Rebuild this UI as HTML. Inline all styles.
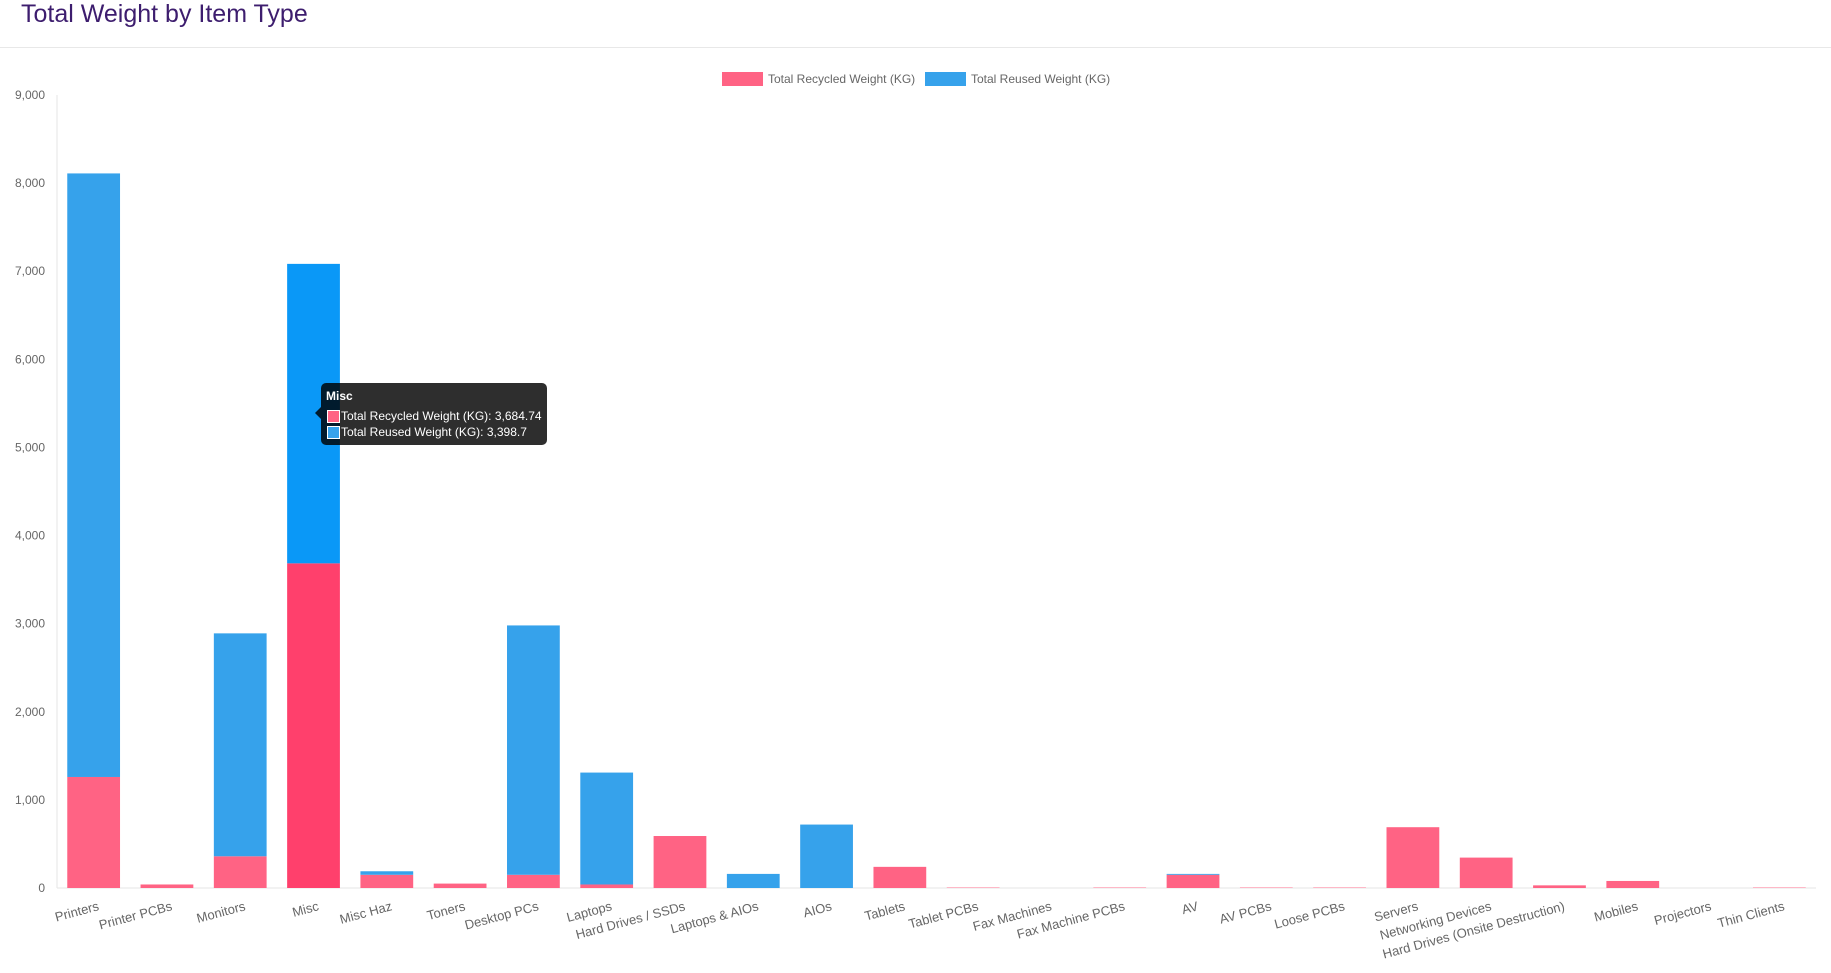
<!DOCTYPE html>
<html><head><meta charset="utf-8"><style>
body{margin:0;background:#fff;font-family:"Liberation Sans",sans-serif;}
#title{position:absolute;left:21px;top:0px;font-size:25px;color:#3d1d6e;}
#rule{position:absolute;left:0;top:47px;width:1831px;height:1px;background:#e8e8e8;}
#tip{position:absolute;left:321px;top:383px;width:226px;height:62px;background:rgba(0,0,0,0.82);border-radius:5px;color:#fff;font-size:12px;}
</style></head><body>
<div id="title">Total Weight by Item Type</div>
<div id="rule"></div>
<svg id="chart" width="1831" height="973" style="position:absolute;left:0;top:0"></svg>
<div id="tip">
<div style="position:absolute;left:5px;top:6px;font-weight:bold">Misc</div>
<div style="position:absolute;left:6px;top:27px;width:11px;height:11px;background:#ff6384;border:1px solid #fff"></div>
<div style="position:absolute;left:20px;top:26px">Total Recycled Weight (KG): 3,684.74</div>
<div style="position:absolute;left:6px;top:43px;width:11px;height:11px;background:#36a2eb;border:1px solid #fff"></div>
<div style="position:absolute;left:20px;top:42px">Total Reused Weight (KG): 3,398.7</div>
<div style="position:absolute;left:-6px;top:24px;width:0;height:0;border-top:6px solid transparent;border-bottom:6px solid transparent;border-right:6px solid rgba(0,0,0,0.82)"></div>
</div>
<script>
const categories=["Printers","Printer PCBs","Monitors","Misc","Misc Haz","Toners","Desktop PCs","Laptops","Hard Drives / SSDs","Laptops & AIOs","AIOs","Tablets","Tablet PCBs","Fax Machines","Fax Machine PCBs","AV","AV PCBs","Loose PCBs","Servers","Networking Devices","Hard Drives (Onsite Destruction)","Mobiles","Projectors","Thin Clients"];
const recycled=[1260,40,360,3684.74,150,50,150,40,590,0,0,240,5,0,5,150,5,5,690,345,30,80,0,5];
const reused=[6850,0,2530,3398.7,40,0,2830,1270,0,160,720,0,0,0,0,10,0,0,0,0,0,0,0,0];
const yTicks=[0,1000,2000,3000,4000,5000,6000,7000,8000,9000];
const highlight=3;
const svg=document.getElementById('chart');const NS='http://www.w3.org/2000/svg';
const L=57,R=1816,T=95,B=888,yMax=9000;
const y=v=>B-(v/yMax)*(B-T);
const band=(R-L)/categories.length;
const xc=i=>L+band*(i+0.5);
function mk(t,a){const e=document.createElementNS(NS,t);for(const k in a)e.setAttribute(k,a[k]);svg.appendChild(e);return e;}
let ax=mk('line',{x1:L,y1:T,x2:L,y2:B,stroke:'#e6e6e6'});

let bx=mk('line',{x1:L,y1:B,x2:R,y2:B,stroke:'#e6e6e6'});

yTicks.forEach(v=>{const t=mk('text',{x:L-12,y:y(v)+4,'text-anchor':'end','font-size':12,fill:'#666'});t.textContent=v.toLocaleString('en-US');
});
const bw=band*0.72;
categories.forEach((c,i)=>{
 const h=i===highlight;
 const r=mk('rect',{x:xc(i)-bw/2,y:y(recycled[i]),width:bw,height:B-y(recycled[i]),fill:h?'#ff406c':'#ff6384'});
 
 const u=mk('rect',{x:xc(i)-bw/2,y:y(recycled[i]+reused[i]),width:bw,height:y(recycled[i])-y(recycled[i]+reused[i]),fill:h?'#0a98f7':'#36a2eb'});
 
 const t=mk('text',{x:xc(i)+6,y:B+22,'text-anchor':'end','font-size':13,fill:'#666',transform:`rotate(-15 ${xc(i)+6} ${B+22})`});t.textContent=c;
 
});
const lg=[['Total Recycled Weight (KG)','#ff6384',722],['Total Reused Weight (KG)','#36a2eb',925]];
lg.forEach(([n,c,x])=>{const r=mk('rect',{x:x,y:72,width:41,height:14,fill:c});

const t=mk('text',{x:x+46,y:83,'font-size':12,fill:'#666'});t.textContent=n;
});
</script>
</body></html>
